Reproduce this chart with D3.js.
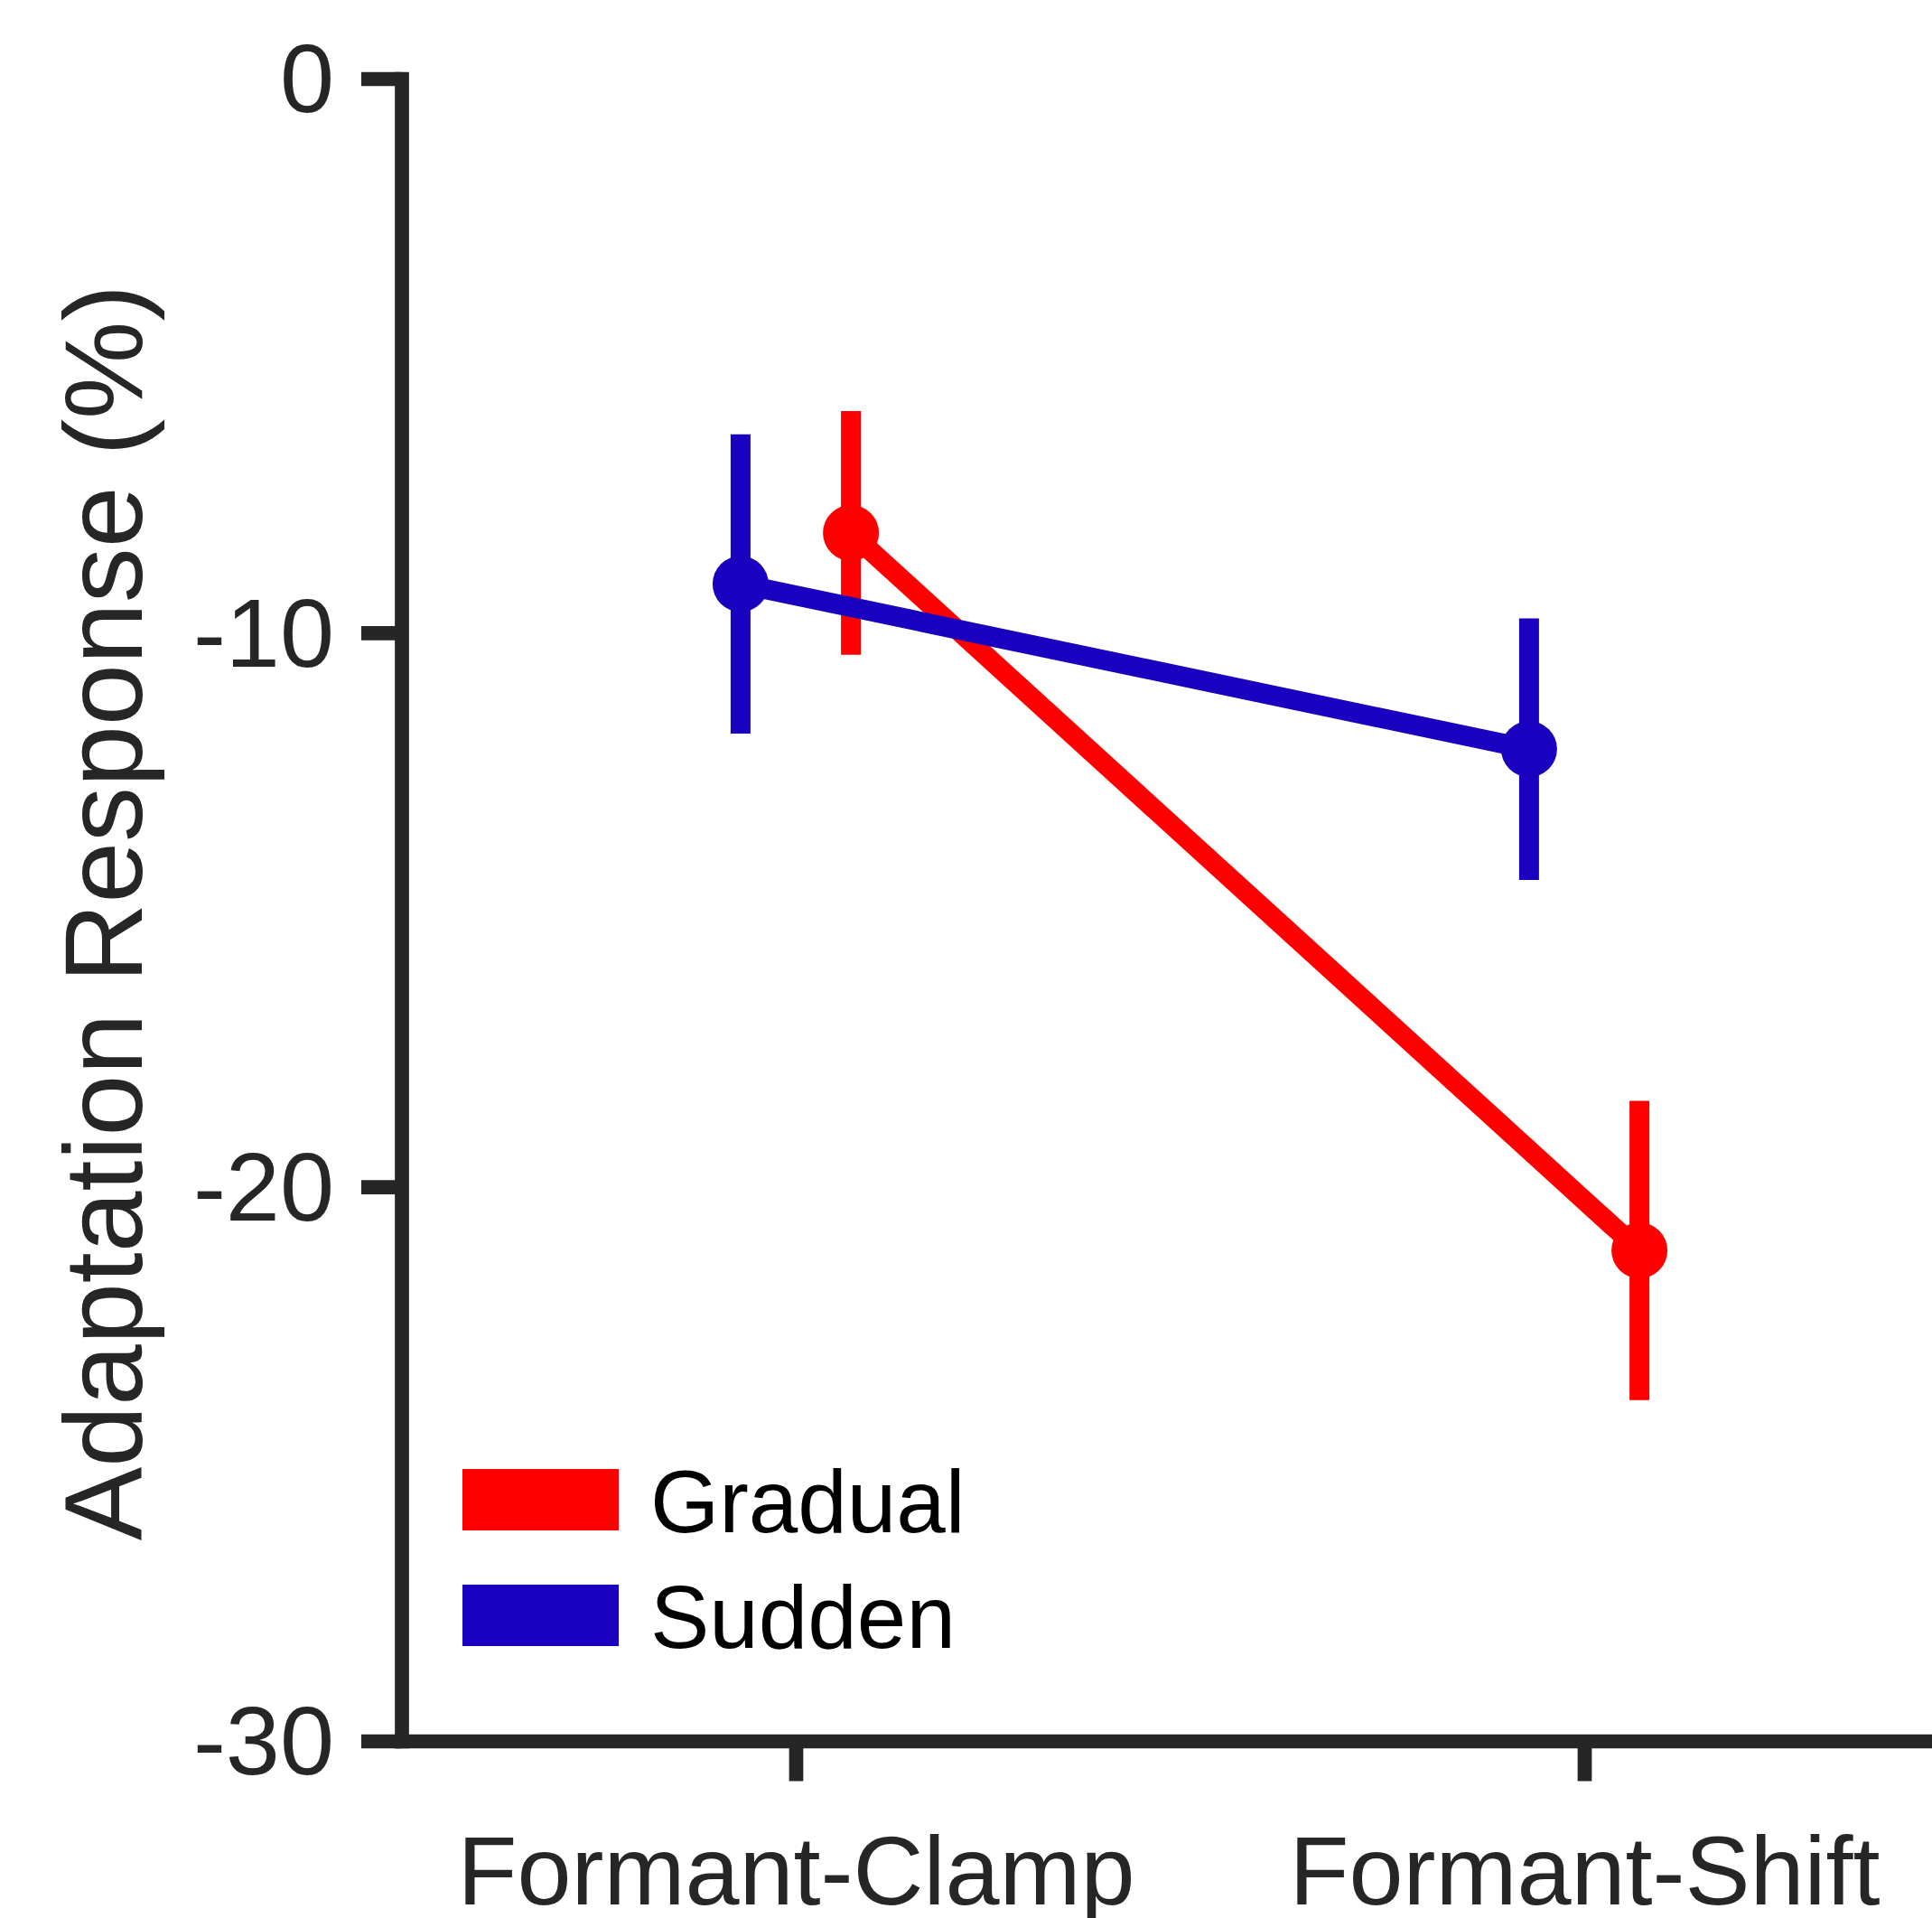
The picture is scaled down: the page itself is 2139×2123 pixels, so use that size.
<!DOCTYPE html>
<html>
<head>
    <title>Adaptation Response</title>
    <script src="https://cdnjs.cloudflare.com/ajax/libs/d3/7.8.5/d3.min.js"></script>
    <style>
        body { margin: 0; background: white; }
        svg { display: block; }
        text { font-family: "Liberation Sans", Arial, sans-serif; }
    </style>
</head>
<body>
    <svg width="2139" height="2123"></svg>

    <script>
        // data
        const categories = ["Formant-Clamp", "Formant-Shift"];
        const gradualMean = [-8.2, -21.15];
        const gradualErr = [2.2, 2.7];
        const suddenMean = [-9.12, -12.1];
        const suddenErr = [2.7, 2.36];
        const yTicks = [0, -10, -20, -30];
        const seriesNames = ["Gradual", "Sudden"];
        const seriesColors = ["#ff0000", "#1a00bf"];
        const seriesOffset = [0.07, -0.07];

        const axisColor = "#262626";
        const axisWidth = 15.7;
        const markWidth = 22;

        let svg = d3.select("svg");

        let x = d3.scaleLinear().domain([0.5, 2.5]).range([444.5, 2190.5]);
        let y = d3.scaleLinear().domain([-30, 0]).range([1927, 87]);

        // y axis
        let yAxis = svg.append("g").attr("transform", "translate(" + x(0.5) + ",0)")
            .call(d3.axisLeft(y).tickValues(yTicks).tickFormat(d => d === 0 ? "0" : "-" + Math.abs(d))
                .tickSize(44.5).tickSizeOuter(0).tickPadding(30));

        // x axis
        let xAxis = svg.append("g").attr("transform", "translate(0," + y(-30) + ")")
            .call(d3.axisBottom(x).tickValues([1, 2]).tickFormat(d => categories[d - 1])
                .tickSize(44.5).tickSizeOuter(0).tickPadding(60));

        [yAxis, xAxis].forEach(g => {
            g.select(".domain").attr("stroke", axisColor).attr("stroke-width", axisWidth)
                .attr("stroke-linecap", "square");
            g.selectAll(".tick line").attr("stroke", axisColor).attr("stroke-width", axisWidth);
            g.selectAll(".tick text").attr("fill", axisColor).attr("font-size", 108)
                .attr("font-family", "Liberation Sans, Arial, sans-serif");
        });
        yAxis.selectAll(".tick text").attr("dy", "0.34em");

        // y label
        svg.append("text")
            .attr("transform", "translate(157," + 1010 + ") rotate(-90)")
            .attr("text-anchor", "middle")
            .attr("font-size", 122)
            .attr("fill", axisColor)
            .text("Adaptation Response (%)");

        // series: gradual drawn first, sudden on top
        let series = [
            { name: seriesNames[0], mean: gradualMean, err: gradualErr, color: seriesColors[0], off: seriesOffset[0] },
            { name: seriesNames[1], mean: suddenMean, err: suddenErr, color: seriesColors[1], off: seriesOffset[1] }
        ];

        series.forEach(s => {
            let pts = s.mean.map((m, i) => ({ x: i + 1 + s.off, m: m, e: s.err[i] }));
            let g = svg.append("g");

            g.selectAll("line.err").data(pts).enter().append("line")
                .attr("class", "err")
                .attr("x1", d => x(d.x)).attr("x2", d => x(d.x))
                .attr("y1", d => y(d.m + d.e)).attr("y2", d => y(d.m - d.e))
                .attr("stroke", s.color).attr("stroke-width", markWidth);

            g.append("path").datum(pts)
                .attr("d", d3.line().x(d => x(d.x)).y(d => y(d.m)))
                .attr("fill", "none").attr("stroke", s.color).attr("stroke-width", markWidth);

            g.selectAll("circle").data(pts).enter().append("circle")
                .attr("cx", d => x(d.x)).attr("cy", d => y(d.m)).attr("r", 31)
                .attr("fill", s.color);
        });

        // legend
        let legend = svg.append("g").attr("transform", "translate(512,1626)");
        seriesNames.forEach((name, i) => {
            legend.append("rect")
                .attr("x", 0).attr("y", i * 128)
                .attr("width", 173).attr("height", 68)
                .attr("fill", seriesColors[i]);
            legend.append("text")
                .attr("x", 208).attr("y", i * 128 + 70)
                .attr("font-size", 98).attr("fill", "#000")
                .text(name);
        });
    </script>
</body>
</html>
